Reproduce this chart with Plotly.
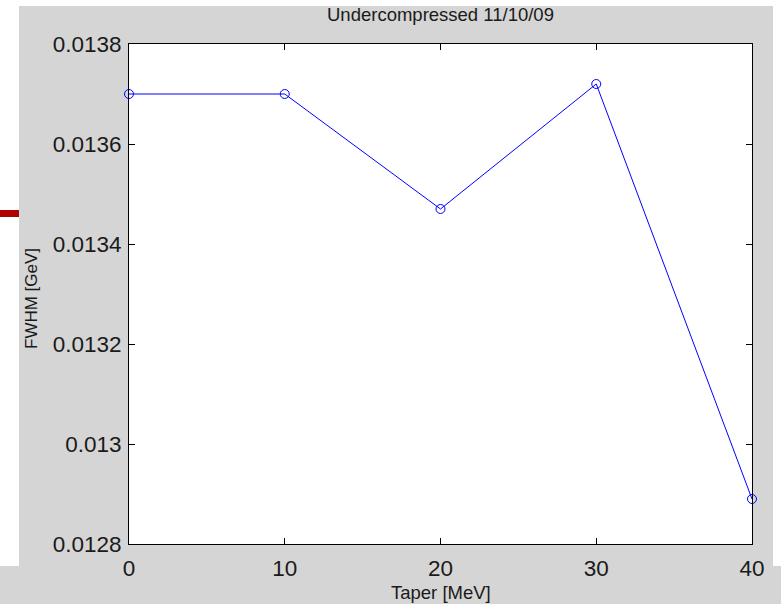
import plotly.graph_objects as go

# Data
taper_mev = [0, 10, 20, 30, 40]
fwhm_gev = [0.01370, 0.01370, 0.01347, 0.01372, 0.01289]
x_ticks = [0, 10, 20, 30, 40]
y_ticks = [0.0128, 0.0130, 0.0132, 0.0134, 0.0136, 0.0138]
y_tick_labels = ["0.0128", "0.013", "0.0132", "0.0134", "0.0136", "0.0138"]

W, H = 781, 604
L, R, T, B = 129, 752, 44, 544  # plot box in pixels

def px(x):
    return x / W

def py(y):
    return 1 - y / H

GRAY = "#d5d5d5"
FONT = "Liberation Sans, Arial, Helvetica, sans-serif"

fig = go.Figure()
fig.add_trace(go.Scatter(
    x=taper_mev, y=fwhm_gev, mode="lines+markers",
    line=dict(color="#0000ff", width=1),
    marker=dict(symbol="circle-open", size=9, color="#0000ff", line=dict(width=1)),
    cliponaxis=False, showlegend=False,
))

shapes = [
    dict(type="rect", xref="paper", yref="paper", x0=px(19), x1=px(773), y0=py(566), y1=py(6),
         fillcolor=GRAY, line=dict(width=0), layer="below"),
    dict(type="rect", xref="paper", yref="paper", x0=0, x1=1, y0=0, y1=py(566),
         fillcolor=GRAY, line=dict(width=0), layer="below"),
    dict(type="rect", xref="paper", yref="paper", x0=0, x1=px(19), y0=py(217), y1=py(210),
         fillcolor="#b00000", line=dict(width=0), layer="below"),
    dict(type="rect", xref="paper", yref="paper", x0=px(L), x1=px(R), y0=py(B), y1=py(T),
         fillcolor="white", line=dict(width=0), layer="below"),
]

TEXT = "#1a1a1a"

fig.update_layout(
    width=W, height=H,
    margin=dict(l=0, r=0, t=0, b=0, autoexpand=False),
    paper_bgcolor="white", plot_bgcolor="rgba(0,0,0,0)",
    shapes=shapes,
    font=dict(family=FONT, color=TEXT),
    xaxis=dict(
        domain=[px(L), px(R)], range=[0, 40], automargin=False,
        tickvals=x_ticks, ticktext=[str(v) for v in x_ticks],
        ticks="inside", ticklen=6, tickwidth=1, tickcolor="black",
        showline=True, linecolor="black", linewidth=1, mirror="ticks",
        showgrid=False, zeroline=False,
        tickfont=dict(size=22.5, color=TEXT), ticklabelstandoff=4,
    ),
    yaxis=dict(
        domain=[py(B), py(T)], range=[0.0128, 0.0138], automargin=False,
        tickvals=y_ticks, ticktext=y_tick_labels,
        ticks="inside", ticklen=6, tickwidth=1, tickcolor="black",
        showline=True, linecolor="black", linewidth=1, mirror="ticks",
        showgrid=False, zeroline=False,
        tickfont=dict(size=22.5, color=TEXT), ticklabelstandoff=2,
    ),
    annotations=[
        dict(text="Undercompressed 11/10/09", xref="paper", yref="paper",
             x=(px(L) + px(R)) / 2, y=py(14), xanchor="center", yanchor="middle",
             showarrow=False, font=dict(size=18.5, family=FONT, color=TEXT)),
        dict(text="Taper [MeV]", xref="paper", yref="paper",
             x=(px(L) + px(R)) / 2, y=py(592), xanchor="center", yanchor="middle",
             showarrow=False, font=dict(size=18.5, family=FONT, color=TEXT)),
        dict(text="FWHM [GeV]", xref="paper", yref="paper", textangle=-90,
             x=px(31), y=py(298), xanchor="center", yanchor="middle",
             showarrow=False, font=dict(size=17, family=FONT, color=TEXT)),
    ],
)

fig.write_html(
    "out.html",
    config={"displayModeBar": False},
    post_script="document.body.style.margin='0';document.body.style.padding='0';"
                "document.body.style.overflow='hidden';",
)
